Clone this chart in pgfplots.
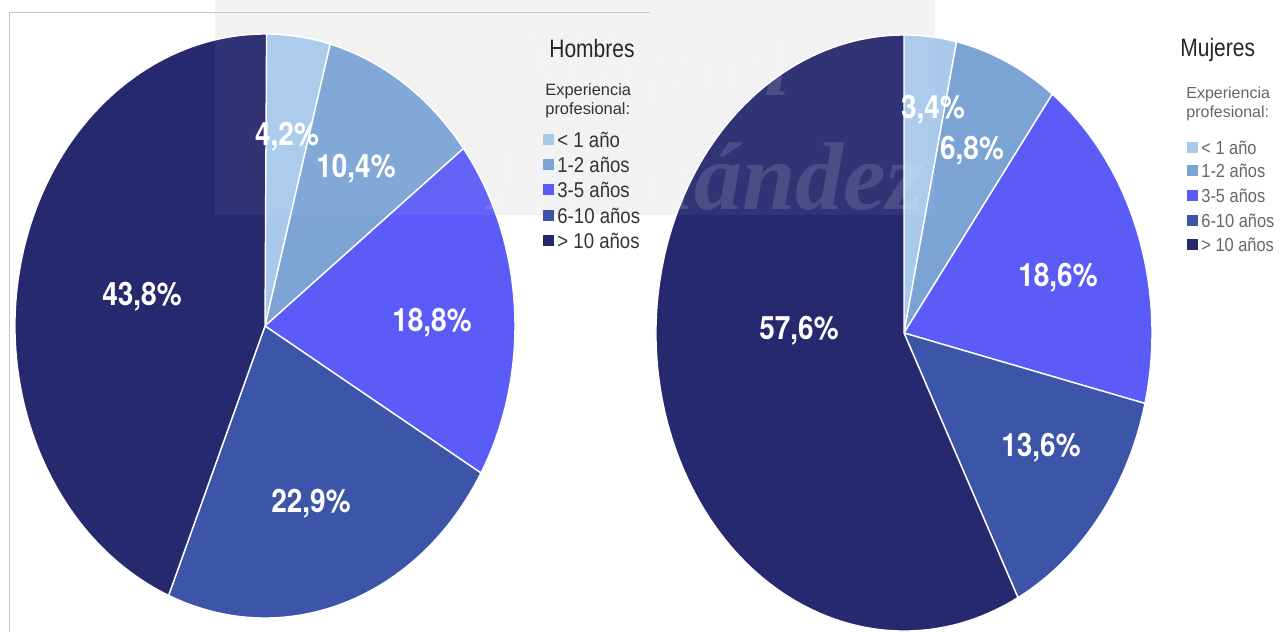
\documentclass[border=0pt]{standalone}
\usepackage{pgfplots}
\pgfplotsset{compat=1.18}
\usepackage{pgfplotstable}
\usepackage{fontspec}
\setmainfont{Liberation Sans}
\newfontfamily\lblfont{TeX Gyre Heros}
\newfontfamily\wmfont{Liberation Serif}

\definecolor{col0}{HTML}{A9C9EA}
\definecolor{col1}{HTML}{7BA4D4}
\definecolor{col2}{HTML}{5B5BF7}
\definecolor{col3}{HTML}{3C55A8}
\definecolor{col4}{HTML}{26296E}
\definecolor{legtxt}{HTML}{333333}

% porcentajes por experiencia profesional
\pgfplotstableread{
grupo hombres mujeres
1 4.2 3.4
2 10.4 6.8
3 18.8 18.6
4 22.9 13.6
5 43.8 57.6
}\datos

% slice: cx cy rx ry value colour (clockwise from 12 o'clock)
\newcommand{\pieslice}[6]{%
  \pgfmathsetmacro\sa{90-3.6*\cum}%
  \pgfmathsetmacro\sb{90-3.6*(\cum+#5)}%
  \edef\tmp{\noexpand\filldraw[fill=#6, draw=white, line width=0.7pt, line join=round]
    (#1,#2) -- ({#1+#3*cos(\sa)},{#2+#4*sin(\sa)})
    arc[start angle=\sa, end angle=\sb, x radius=#3, y radius=#4] -- cycle;}%
  \tmp
  \pgfmathsetmacro\pcum{\cum+#5}\xdef\cum{\pcum}%
}
\newcommand{\pct}[3]{\node[text=white, font=\lblfont\bfseries\fontsize{14}{14}\selectfont] at (#1,#2) {\scalebox{1}[1.15]{#3}};}
% x y text colour fontsize textcolour
\newcommand{\legitem}[6]{%
  \fill[#4] (#1-5.5,#2-5.5) rectangle (#1+5.5,#2+5.5);
  \node[anchor=west, inner sep=0pt, text=#6, font=\fontsize{#5}{9}\selectfont] at (#1+9,#2) {\scalebox{1}[1.15]{#3}};}

\begin{document}
\begin{tikzpicture}
\begin{axis}[x=0.5pt, y=0.5pt, xmin=0, xmax=1287, ymin=0, ymax=632,
  hide axis, clip=false, scale only axis, xtick=\empty, ytick=\empty]
  \coordinate (ll) at (rel axis cs:0,0);
  \coordinate (ur) at (rel axis cs:1,1);
  % watermark band and frame
  \fill[black!5] (215,417) rectangle (935,632);
  \draw[black!22, line width=0.4pt] (9,0) -- (9,620) -- (650,620);

  % Hombres
  \gdef\cum{0}
  \pgfplotsforeachungrouped \i in {0,...,4}{%
    \pgfplotstablegetelem{\i}{hombres}\of\datos \let\v\pgfplotsretval
    \pieslice{265}{306}{250}{292}{\v}{col\i}}
  % Mujeres
  \gdef\cum{0}
  \pgfplotsforeachungrouped \i in {0,...,4}{%
    \pgfplotstablegetelem{\i}{mujeres}\of\datos \let\v\pgfplotsretval
    \pieslice{904}{299}{248}{298}{\v}{col\i}}

  % watermark text
  \node[text=white, opacity=0.13, font=\wmfont\fontsize{48}{48}\selectfont\bfseries\itshape] at (650,560) {Miguel};
  \node[text=white, opacity=0.13, font=\wmfont\fontsize{48}{48}\selectfont\bfseries\itshape] at (705,455) {Hernández};
  \fill[white, opacity=0.05] (215,417) rectangle (935,632);

  \pct{287}{495}{4,2\%}
  \pct{356}{463}{10,4\%}
  \pct{432}{309}{18,8\%}
  \pct{311}{128}{22,9\%}
  \pct{142}{335}{43,8\%}

  \pct{933}{522}{3,4\%}
  \pct{972}{481}{6,8\%}
  \pct{1058}{354}{18,6\%}
  \pct{799}{301}{57,6\%}
  \pct{1041}{184}{13,6\%}

  % legend Hombres
  \node[anchor=west, inner sep=0pt, text=black!85, font=\fontsize{10.5}{11}\selectfont] at (549,584) {\scalebox{1}[1.2]{Hombres}};
  \node[anchor=north west, inner sep=0pt, align=left, text=legtxt, font=\fontsize{8.2}{9.4}\selectfont] at (545,549) {Experiencia\\profesional:};
  \legitem{548}{492}{< 1 año}{col0}{9.3}{legtxt}
  \legitem{548}{467}{1-2 años}{col1}{9.3}{legtxt}
  \legitem{548}{442}{3-5 años}{col2}{9.3}{legtxt}
  \legitem{548}{416}{6-10 años}{col3}{9.3}{legtxt}
  \legitem{548}{391}{> 10 años}{col4}{9.3}{legtxt}

  % legend Mujeres
  \node[anchor=west, inner sep=0pt, text=black!85, font=\fontsize{10.5}{11}\selectfont] at (1180,582) {\scalebox{1}[1.2]{Mujeres}};
  \node[anchor=north west, inner sep=0pt, align=left, text=black!60, font=\fontsize{8}{9.4}\selectfont] at (1186,545) {Experiencia\\profesional:};
  \legitem{1192}{484}{< 1 año}{col0}{8.2}{black!60}
  \legitem{1192}{461}{1-2 años}{col1}{8.2}{black!60}
  \legitem{1192}{436}{3-5 años}{col2}{8.2}{black!60}
  \legitem{1192}{411}{6-10 años}{col3}{8.2}{black!60}
  \legitem{1192}{387}{> 10 años}{col4}{8.2}{black!60}
\end{axis}
\pgfresetboundingbox
\path (ll) rectangle (ur);
\end{tikzpicture}
\end{document}
